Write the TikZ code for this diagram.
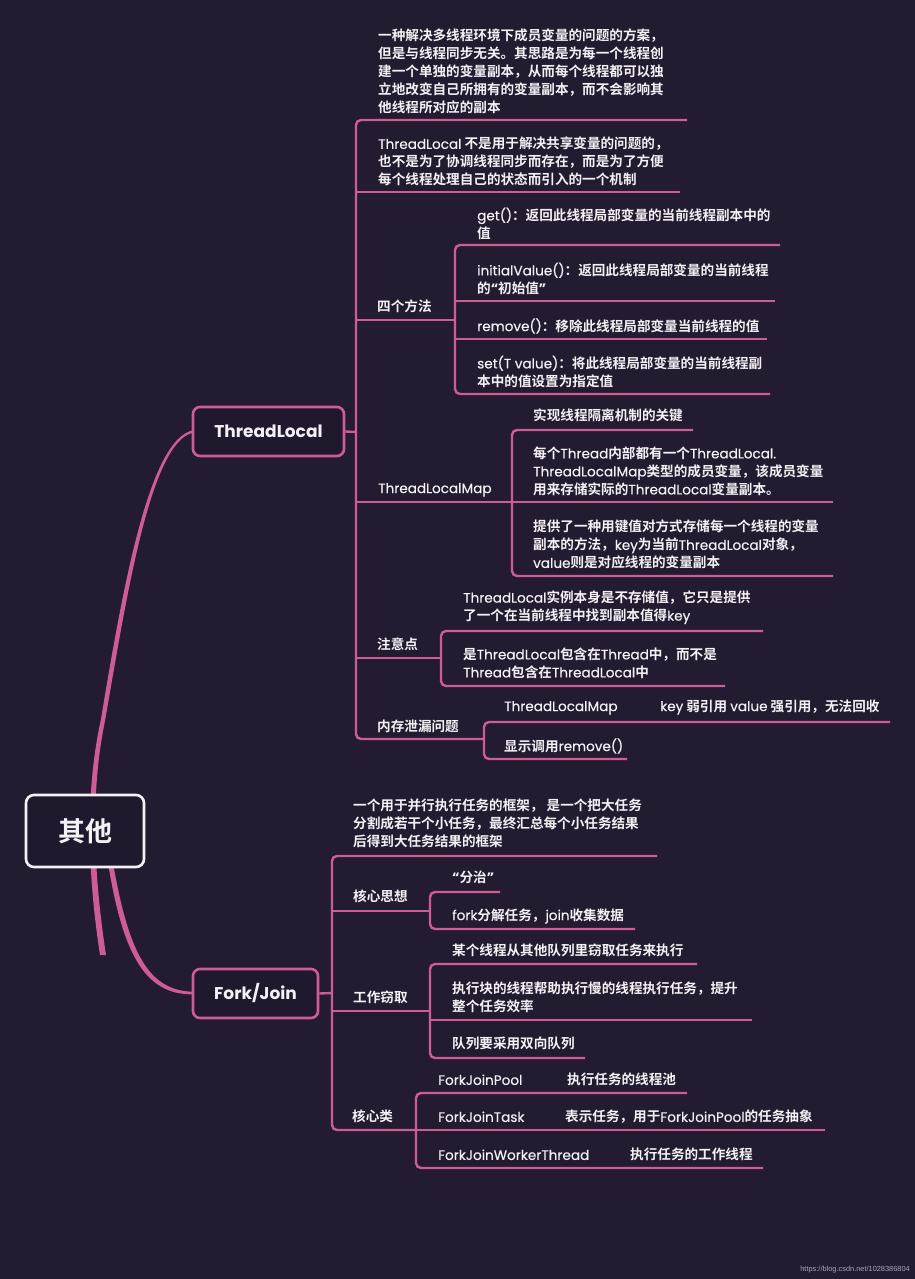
\documentclass[tikz,border=0pt]{standalone}
\usepackage{fontspec}
\setmainfont{Noto Sans CJK SC}[BoldFont={* Bold}]
\newfontfamily\en{Poppins}[FakeBold=0.35]
\newfontfamily\enb{Poppins}
\newfontfamily\wm{Liberation Sans}
\definecolor{bg}{RGB}{35,27,48}
\definecolor{bgbox}{RGB}{32,25,45}
\definecolor{pk}{RGB}{206,92,150}
\definecolor{tx}{RGB}{243,241,245}
\definecolor{wmc}{RGB}{170,166,182}
\newcommand\E[1]{{\en\mdseries #1}}
\newcommand\Q[1]{{\enb\bfseries #1}}
\newcommand\ST{\vrule width 0pt height 0.86em depth 0.14em\relax}
\tikzset{
  txt/.style={anchor=west, inner sep=0pt, text=tx, align=left,
    font=\bfseries\fontsize{13.6}{18}\selectfont,
    execute at begin node=\ST, execute at end node=\ST},
  lat/.style={txt, font=\en\fontsize{13.6}{18}\selectfont},
  br/.style={draw=pk, line width=2.4pt, rounded corners=5pt},
  topic/.style={draw=pk, line width=2.6pt, rounded corners=7pt, fill=bgbox,
    text=tx, font=\enb\bfseries\fontsize{17}{20}\selectfont,
    minimum height=49pt, inner sep=0pt},
}
\begin{document}
\begin{tikzpicture}[x=1pt,y=-1pt]
\useasboundingbox (0,0) rectangle (915,1279);
\fill[bg] (0,0) rectangle (915,1279);

% ---------- main curves ----------
\coordinate (rb) at (103,955);
\fill[pk] (100,955) .. controls (87,870) and (85.5,790) .. (100.8,720)
  .. controls (122.5,589) and (149,439) .. (193,430.3)
  -- (193,432.7)
  .. controls (151,442) and (127.5,591) .. (105.2,720)
  .. controls (90.5,790) and (93,870) .. (106,955) -- cycle;
\fill[pk] (107.5,860) .. controls (122,950) and (143,995.2) .. (193,994.3)
  -- (193,991.7) .. controls (147,990.8) and (128,950) .. (112.5,860) -- cycle;

% ---------- topic boxes ----------
\node[draw=tx, line width=2.6pt, rounded corners=8pt, fill=bgbox, text=tx,
  font=\bfseries\fontsize{27}{30}\selectfont, minimum width=118pt,
  minimum height=72pt, inner sep=0pt] (root) at (85,831) {其他};
\node[topic, minimum width=151pt] (tl) at (268.5,431.5) {ThreadLocal};
\node[topic, minimum width=125pt] (fj) at (255.5,993.5) {Fork/Join};

% ---------- ThreadLocal coordinates ----------
\coordinate (bA) at (356,432);
\coordinate (a1) at (687,120);
\coordinate (a2) at (680,192);
\coordinate (bB) at (455,320);
\coordinate (bC) at (512,502);
\coordinate (bD) at (441,658);
\coordinate (bE) at (484,739);
\coordinate (b1) at (780,245);
\coordinate (b2) at (775,301);
\coordinate (b3) at (767,339);
\coordinate (b4) at (770,394);
\coordinate (c1) at (693,430);
\coordinate (c2) at (833,502);
\coordinate (c3) at (833,576);
\coordinate (d1) at (763,631);
\coordinate (d2) at (725,686);
\coordinate (e1) at (890,722);
\coordinate (e2) at (627,759);

\draw[br] (tl.east) -- (bA);
\draw[br] (a1) -- (bA |- a1) -- (bA |- bE) -- (bE);
\draw[br] (bA |- a2) -- (a2);
\draw[br] (bA |- bB) -- (bB);
\draw[br] (bA |- bC) -- (bC);
\draw[br] (bA |- bD) -- (bD);
\draw[br] (b1) -- (bB |- b1) -- (bB |- b4) -- (b4);
\draw[br] (bB |- b2) -- (b2);
\draw[br] (bB |- b3) -- (b3);
\draw[br] (c1) -- (bC |- c1) -- (bC |- c3) -- (c3);
\draw[br] (bC |- c2) -- (c2);
\draw[br] (d1) -- (bD |- d1) -- (bD |- d2) -- (d2);
\draw[br] (e1) -- (bE |- e1) -- (bE |- e2) -- (e2);

% ---------- ThreadLocal texts ----------
\node[txt] (t1) at (378,71.5) {一种解决多线程环境下成员变量的问题的方案，\\但是与线程同步无关。其思路是为每一个线程创\\建一个单独的变量副本，从而每个线程都可以独\\立地改变自己所拥有的变量副本，而不会影响其\\他线程所对应的副本};
\node[txt] (t2) at (378,162) {\E{ThreadLocal} 不是用于解决共享变量的问题的，\\也不是为了协调线程同步而存在，而是为了方便\\每个线程处理自己的状态而引入的一个机制};
\node[txt] (t3) at (377,307) {四个方法};
\node[txt] (t31) at (477,224) {\E{get()}：返回此线程局部变量的当前线程副本中的\\值};
\node[txt] (t32) at (477,279) {\E{initialValue()}：返回此线程局部变量的当前线程\\的\Q{“}初始值\Q{”}};
\node[txt] (t33) at (477,326) {\E{remove()}：移除此线程局部变量当前线程的值};
\node[txt] (t34) at (477,372) {\E{set(T value)}：将此线程局部变量的当前线程副\\本中的值设置为指定值};
\node[lat] (t4) at (378,489) {ThreadLocalMap};
\node[txt] (t41) at (533,416) {实现线程隔离机制的关键};
\node[txt] (t42) at (533,471.5) {每个\E{Thread}内部都有一个\E{ThreadLocal.}\\\E{ThreadLocalMap}类型的成员变量，该成员变量\\用来存储实际的\E{ThreadLocal}变量副本。};
\node[txt] (t43) at (533,545) {提供了一种用键值对方式存储每一个线程的变量\\副本的方法，\E{key}为当前\E{ThreadLocal}对象，\\\E{value}则是对应线程的变量副本};
\node[txt] (t5) at (377,645) {注意点};
\node[txt] (t51) at (463,607.5) {\E{ThreadLocal}实例本身是不存储值，它只是提供\\了一个在当前线程中找到副本值得\E{key}};
\node[txt] (t52) at (463,663.5) {是\E{ThreadLocal}包含在\E{Thread}中，而不是\\\E{Thread}包含在\E{ThreadLocal}中};
\node[txt] (t6) at (377,727) {内存泄漏问题};
\node[lat] (t61) at (504,707) {ThreadLocalMap};
\node[txt] (t61d) at (660,707) {\E{key} 弱引用 \E{value} 强引用，无法回收};
\node[txt] (t62) at (504,746) {显示调用\E{remove()}};

% ---------- Fork/Join coordinates ----------
\coordinate (bF) at (332,993);
\coordinate (f1) at (657,856);
\coordinate (bG) at (430,911);
\coordinate (bH) at (430,1011);
\coordinate (bI) at (416,1130);
\coordinate (g1) at (500,892);
\coordinate (g2) at (635,929);
\coordinate (h1) at (697,964);
\coordinate (h2) at (752,1020);
\coordinate (h3) at (585,1058);
\coordinate (i1) at (687,1093);
\coordinate (i2) at (825,1130);
\coordinate (i3) at (763,1168);

\draw[br] (fj.east) -- (bF);
\draw[br] (f1) -- (bF |- f1) -- (bF |- bI) -- (bI);
\draw[br] (bF |- bG) -- (bG);
\draw[br] (bF |- bH) -- (bH);
\draw[br] (g1) -- (bG |- g1) -- (bG |- g2) -- (g2);
\draw[br] (h1) -- (bH |- h1) -- (bH |- h3) -- (h3);
\draw[br] (bH |- h2) -- (h2);
\draw[br] (i1) -- (bI |- i1) -- (bI |- i3) -- (i3);
\draw[br] (bI |- i2) -- (i2);

% ---------- Fork/Join texts ----------
\node[txt] (u1) at (353,824) {一个用于并行执行任务的框架， 是一个把大任务\\分割成若干个小任务，最终汇总每个小任务结果\\后得到大任务结果的框架};
\node[txt] (u2) at (353,897) {核心思想};
\node[txt] (u21) at (452,878) {\Q{“}分治\Q{”}};
\node[txt] (u22) at (452,916) {\E{fork}分解任务，\E{join}收集数据};
\node[txt] (u3) at (353,998) {工作窃取};
\node[txt] (u31) at (452,951) {某个线程从其他队列里窃取任务来执行};
\node[txt] (u32) at (452,998) {执行块的线程帮助执行慢的线程执行任务，提升\\整个任务效率};
\node[txt] (u33) at (452,1044) {队列要采用双向队列};
\node[txt] (u4) at (352,1117) {核心类};
\node[lat] (u41) at (438,1080) {ForkJoinPool};
\node[txt] (u41d) at (567,1080) {执行任务的线程池};
\node[lat] (u42) at (438,1117) {ForkJoinTask};
\node[txt] (u42d) at (565,1117) {表示任务，用于\E{ForkJoinPool}的任务抽象};
\node[lat] (u43) at (438,1155) {ForkJoinWorkerThread};
\node[txt] (u43d) at (630,1155) {执行任务的工作线程};

\node[anchor=east, inner sep=0pt, text=wmc, font=\wm\fontsize{7.4}{8}\selectfont] (wm) at (910,1270) {https://blog.csdn.net/1028386804};
\end{tikzpicture}
\end{document}
